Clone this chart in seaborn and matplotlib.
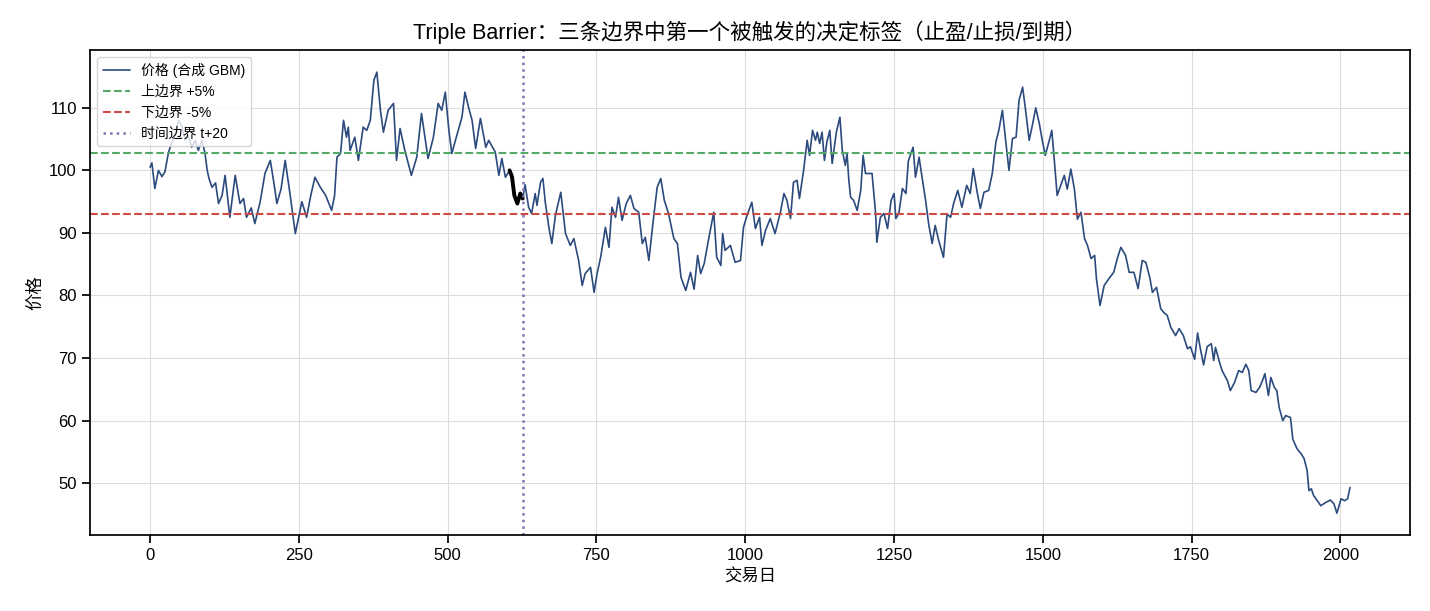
import pandas as pd
import seaborn as sns
import matplotlib.pyplot as plt


# price path (trading day, price)
days = [0, 3, 8, 14, 20, 25, 31, 36, 42, 48, 53, 59, 64, 70, 76, 81, 87, 92, 96, 99,
        104, 110, 115, 121, 126, 134, 143, 151, 157, 162, 170, 176, 185, 193, 202, 208, 213, 220, 227, 235,
        244, 255, 263, 270, 277, 286, 295, 305, 310, 314, 320, 325, 330, 333, 336, 344, 350, 358, 364, 370,
        376, 381, 387, 392, 400, 409, 414, 420, 428, 439, 448, 456, 467, 476, 484, 490, 496, 502, 507, 513,
        524, 529, 535, 541, 547, 555, 564, 569, 580, 586, 591, 597, 604, 608, 612, 617, 622, 626, 630, 636,
        641, 647, 650, 656, 660, 664, 670, 675, 681, 690, 698, 706, 712, 720, 726, 731, 740, 746, 751, 757,
        765, 771, 776, 782, 787, 793, 800, 807, 813, 821, 827, 832, 838, 846, 852, 858, 864, 871, 880, 886,
        892, 900, 908, 914, 920, 925, 931, 939, 947, 952, 959, 962, 966, 975, 983, 992, 997, 1003, 1011, 1017,
        1024, 1028, 1034, 1042, 1050, 1059, 1065, 1070, 1076, 1081, 1087, 1091, 1098, 1104, 1108, 1113, 1118, 1121, 1125, 1129,
        1133, 1137, 1142, 1146, 1153, 1159, 1163, 1168, 1171, 1174, 1177, 1182, 1188, 1194, 1198, 1202, 1213, 1219, 1221, 1227,
        1233, 1239, 1245, 1250, 1253, 1258, 1264, 1270, 1274, 1282, 1286, 1292, 1297, 1303, 1308, 1314, 1319, 1325, 1333, 1339,
        1345, 1350, 1357, 1364, 1372, 1378, 1383, 1390, 1395, 1401, 1409, 1415, 1421, 1426, 1432, 1437, 1443, 1449, 1455, 1460,
        1466, 1471, 1477, 1483, 1488, 1494, 1499, 1504, 1510, 1515, 1519, 1524, 1530, 1536, 1541, 1547, 1553, 1558, 1564, 1570,
        1575, 1581, 1587, 1590, 1596, 1603, 1611, 1619, 1625, 1631, 1639, 1645, 1653, 1660, 1667, 1673, 1680, 1684, 1691, 1698,
        1703, 1709, 1715, 1723, 1729, 1736, 1743, 1748, 1755, 1760, 1765, 1770, 1776, 1783, 1787, 1790, 1796, 1801, 1810, 1815,
        1822, 1829, 1835, 1841, 1846, 1850, 1858, 1864, 1869, 1873, 1879, 1883, 1889, 1893, 1897, 1903, 1908, 1916, 1920, 1927,
        1934, 1939, 1944, 1947, 1951, 1955, 1961, 1967, 1975, 1983, 1989, 1994, 2001, 2007, 2012, 2016]
prices = [100.5, 101.2, 97.1, 100.0, 99.0, 99.8, 102.9, 104.3, 105.9, 108.0, 107.2, 104.8, 105.6, 103.7, 104.8, 103.2, 104.8, 102.9, 100.0, 98.7,
          97.3, 98.0, 94.7, 96.0, 99.2, 92.5, 99.2, 94.7, 95.5, 92.5, 94.0, 91.5, 95.0, 99.5, 101.6, 98.0, 94.7, 97.0, 101.6, 96.3,
          89.9, 95.0, 92.5, 96.0, 98.9, 97.3, 96.0, 93.6, 96.0, 102.1, 102.7, 108.0, 105.3, 106.9, 103.2, 105.3, 101.6, 106.9, 106.4, 108.0,
          114.4, 115.7, 109.6, 106.1, 109.6, 110.7, 101.6, 106.7, 103.2, 99.2, 102.1, 109.1, 101.9, 105.3, 110.7, 109.6, 112.5, 106.4, 102.7, 104.8,
          108.5, 112.5, 110.1, 108.0, 103.5, 108.3, 103.7, 104.8, 102.9, 99.2, 101.9, 98.9, 100.0, 99.0, 96.0, 94.7, 96.3, 95.5, 97.7, 94.1,
          93.1, 96.3, 94.4, 98.1, 98.7, 94.9, 90.9, 88.3, 92.8, 96.5, 89.9, 88.0, 89.1, 85.6, 81.6, 83.5, 84.5, 80.5, 83.5, 86.1,
          90.9, 87.7, 94.1, 92.5, 95.7, 92.0, 94.7, 96.0, 93.9, 93.3, 88.3, 89.3, 85.6, 92.5, 97.3, 98.7, 95.2, 93.1, 89.1, 88.3,
          82.9, 80.8, 83.7, 81.0, 86.4, 83.5, 85.1, 89.3, 93.3, 86.1, 84.8, 89.9, 87.2, 88.0, 85.3, 85.6, 90.9, 92.8, 94.9, 90.7,
          92.5, 88.0, 90.4, 92.3, 89.9, 93.3, 96.3, 95.2, 92.3, 98.1, 98.4, 95.5, 100.0, 104.8, 102.4, 106.4, 104.8, 106.1, 104.3, 106.1,
          101.6, 104.5, 106.4, 101.1, 106.1, 108.5, 103.2, 100.8, 102.7, 98.4, 95.7, 95.2, 93.6, 96.8, 102.4, 99.5, 99.5, 93.1, 88.5, 92.5,
          93.1, 90.7, 95.2, 96.3, 92.3, 93.1, 97.1, 96.3, 101.5, 103.7, 98.9, 102.1, 98.9, 95.2, 91.5, 88.3, 91.2, 88.8, 86.1, 93.0,
          92.5, 94.7, 96.8, 94.1, 97.6, 96.3, 100.3, 96.3, 93.9, 96.5, 96.8, 99.5, 104.5, 106.4, 109.6, 105.3, 100.0, 105.1, 105.3, 111.2,
          113.3, 109.6, 104.8, 107.5, 110.0, 107.5, 104.8, 102.4, 104.5, 106.4, 101.9, 96.0, 97.6, 99.2, 97.0, 100.2, 97.0, 92.2, 93.3, 89.1,
          88.0, 85.9, 86.4, 82.7, 78.4, 81.6, 82.7, 83.7, 85.9, 87.7, 86.4, 83.7, 83.7, 81.1, 85.6, 85.3, 82.7, 80.5, 81.3, 77.9,
          77.3, 76.8, 74.9, 73.6, 74.7, 73.6, 71.5, 71.8, 69.8, 74.0, 71.3, 68.9, 71.8, 72.3, 69.6, 71.7, 69.6, 68.0, 66.4, 64.8,
          66.1, 68.0, 67.7, 69.0, 68.0, 64.8, 64.5, 65.3, 66.4, 67.5, 64.0, 66.9, 65.3, 64.8, 62.1, 60.0, 60.8, 60.5, 57.0, 55.5,
          54.7, 53.9, 52.0, 48.8, 49.1, 48.0, 47.2, 46.4, 46.9, 47.3, 46.7, 45.2, 47.5, 47.2, 47.5, 49.3]

entry_price = 97.9      # price at the event start
barrier_pct = 0.05
event_start = 600       # highlighted path segment
event_end = 628
time_barrier = 626      # t + 20

df = pd.DataFrame({"day": days, "price": prices})
seg = df[(df["day"] >= event_start) & (df["day"] <= event_end)]

sns.set_theme(style="ticks", rc={"axes.grid": True, "grid.color": "#dddddd",
                                 "grid.linewidth": 0.8, "axes.edgecolor": "black",
                                 "text.color": "black", "axes.labelcolor": "black",
                                 "xtick.color": "black", "ytick.color": "black"})
plt.rcParams["font.family"] = ["Liberation Sans", "Noto Sans CJK SC", "DejaVu Sans"]

fig, ax = plt.subplots(figsize=(14.3, 6.11), dpi=100)
fig.subplots_adjust(left=0.063, right=0.986, top=0.918, bottom=0.124)

sns.lineplot(data=df, x="day", y="price", ax=ax, color="#2b4a7d", linewidth=1.2,
             label="价格 (合成 GBM)")
sns.lineplot(data=seg, x="day", y="price", ax=ax, color="black", linewidth=2.8)

ax.axhline(entry_price * (1 + barrier_pct), color="#55a868", linestyle="--", linewidth=1.5, label="上边界 +5%")
ax.axhline(entry_price * (1 - barrier_pct), color="#d04a45", linestyle="--", linewidth=1.5, label="下边界 -5%")
ax.axvline(time_barrier, color="#8172b3", linestyle=":", linewidth=1.8, label="时间边界 t+20")

ax.set_title("Triple Barrier：三条边界中第一个被触发的决定标签（止盈/止损/到期）", fontsize=15.5, pad=8)
ax.set_xlabel("交易日", fontsize=12.5)
ax.set_ylabel("价格", fontsize=12.5)
ax.tick_params(labelsize=12)
ax.legend(loc="upper left", fontsize=10, framealpha=0.8)

plt.savefig("out.png", dpi=100)
